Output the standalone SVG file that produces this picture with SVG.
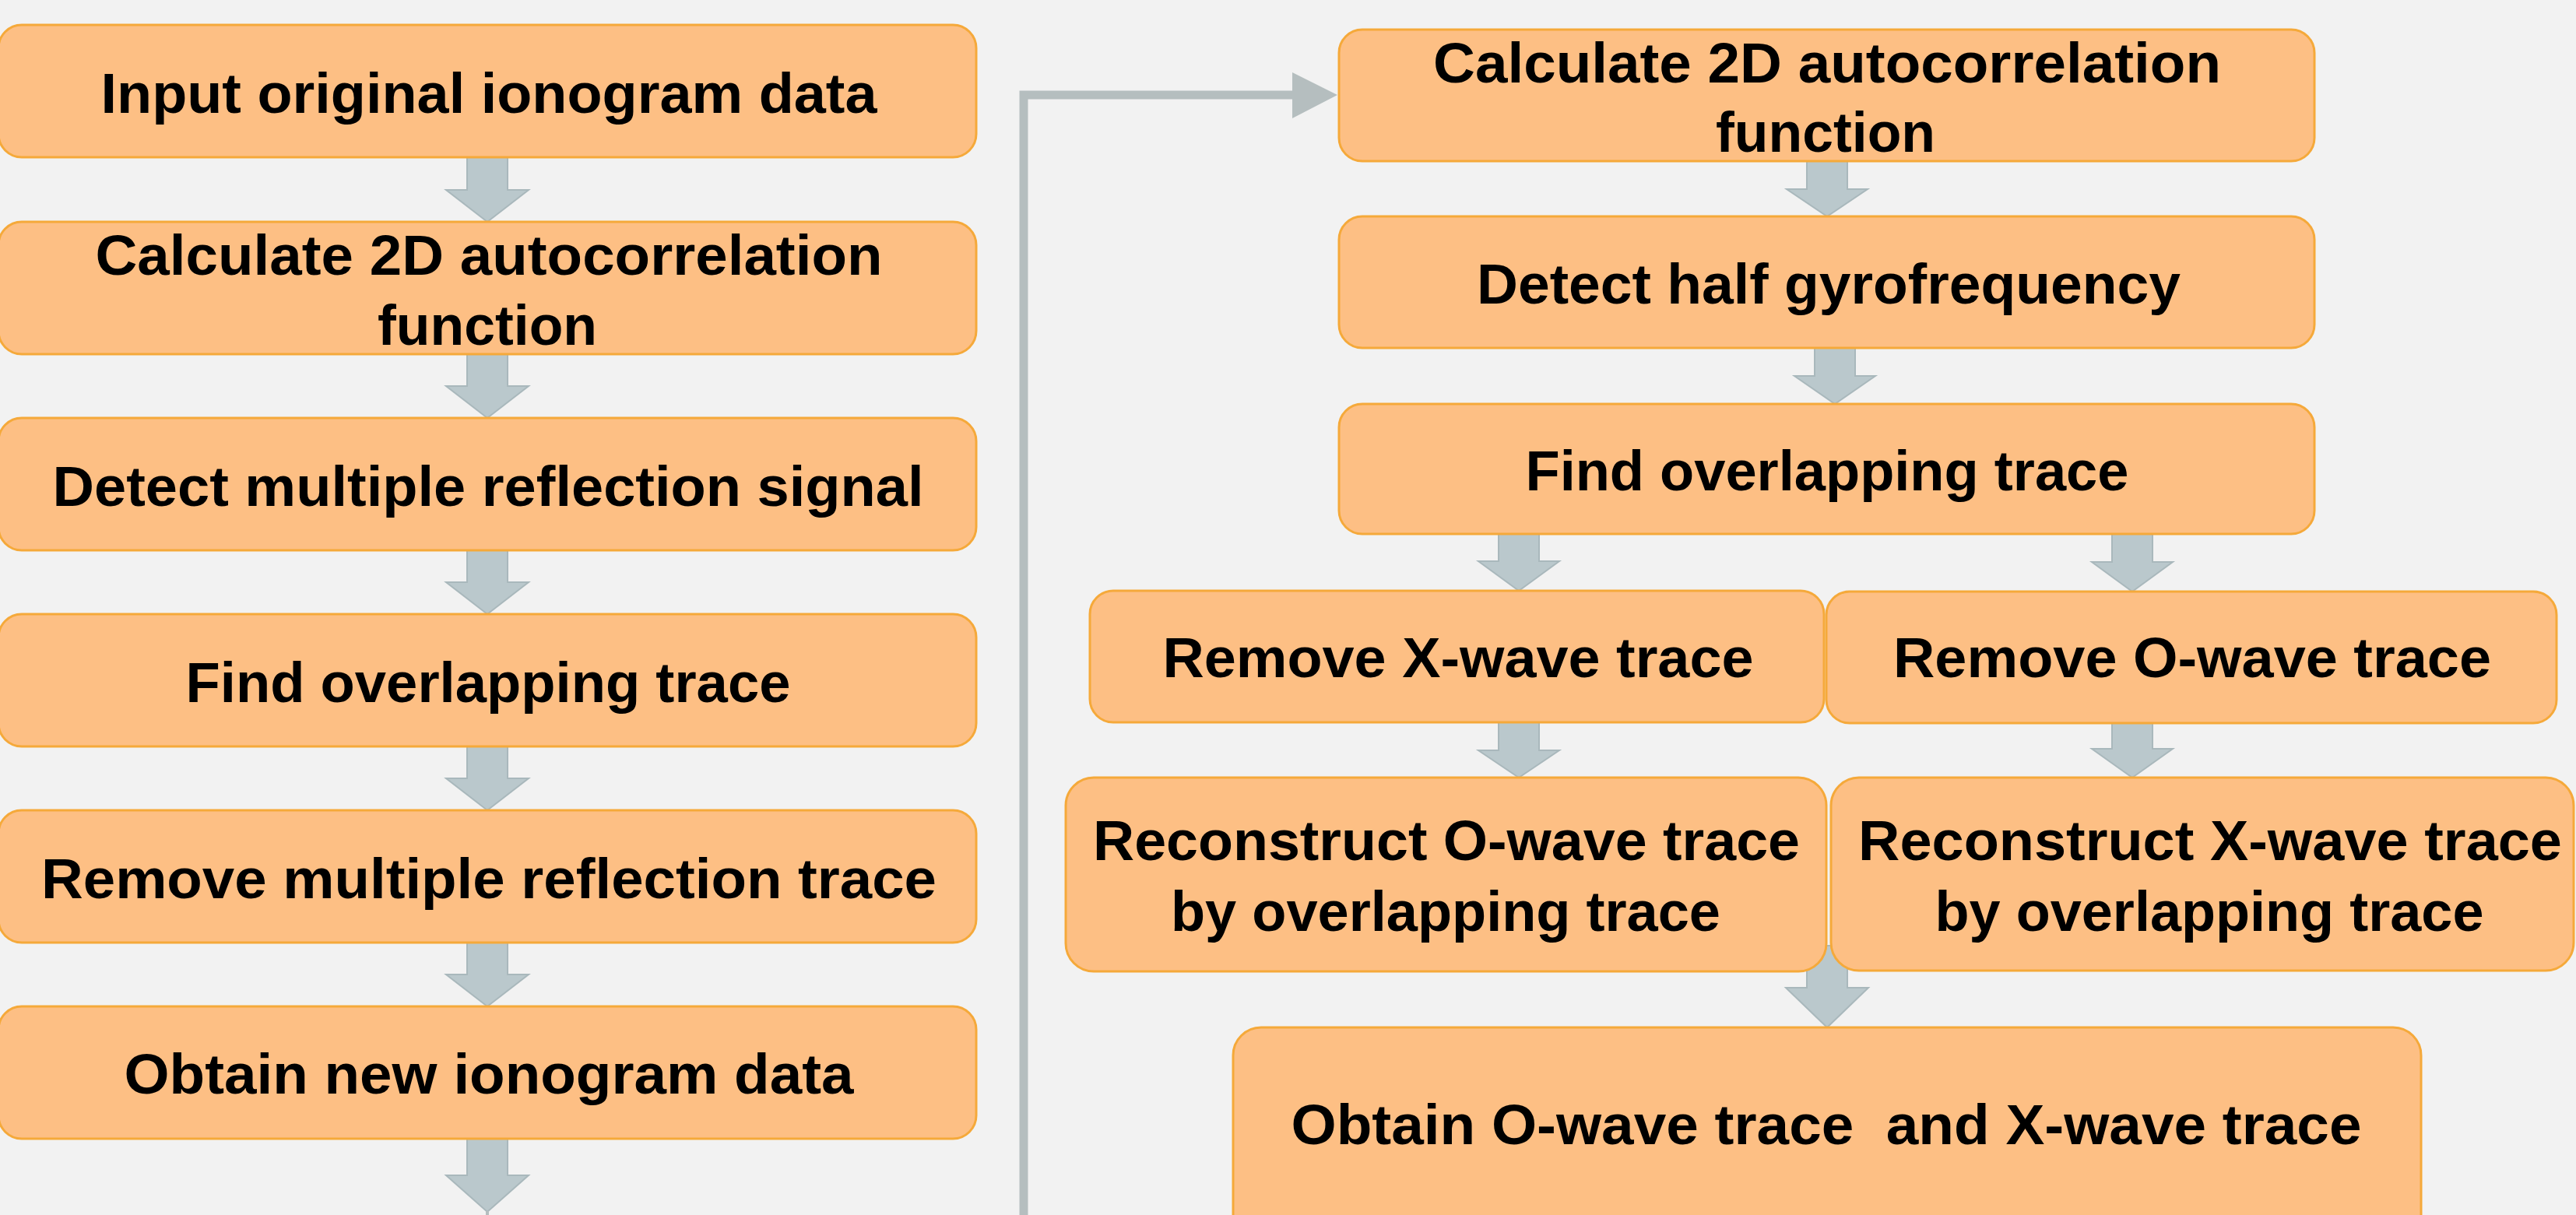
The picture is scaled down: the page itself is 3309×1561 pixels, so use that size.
<svg xmlns="http://www.w3.org/2000/svg" width="3309" height="1561" viewBox="0 0 3309 1561">
<defs>
<style>
.box{fill:#FDBF84;stroke:#F5A93A;stroke-width:3}
.t{font-family:"Liberation Sans",Arial,sans-serif;font-weight:bold;font-size:72px;fill:#000;text-anchor:middle}
.arr{fill:#BAC8CC;stroke:#A9B8BC;stroke-width:2}
.ln{fill:none;stroke:#B5BEBF;stroke-width:11}
</style>
</defs>
<rect x="0" y="0" width="3309" height="1561" fill="#F2F2F2"/>
<g id="connectors">
<polygon class="arr" points="600,202 652,202 652,244 679,244 626,285 573,244 600,244"/>
<polygon class="arr" points="600,455 652,455 652,496 679,496 626,537 573,496 600,496"/>
<polygon class="arr" points="600,707 652,707 652,748 679,748 626,789 573,748 600,748"/>
<polygon class="arr" points="600,959 652,959 652,1000 679,1000 626,1041 573,1000 600,1000"/>
<polygon class="arr" points="600,1211 652,1211 652,1252 679,1252 626,1293 573,1252 600,1252"/>
<polygon class="arr" points="600,1463 652,1463 652,1510 679,1510 626,1557 573,1510 600,1510"/>
<line x1="626" y1="1556" x2="626" y2="1561" stroke="#B5BEBF" stroke-width="4"/>
<polyline class="ln" points="1315,1561 1315,122 1662,122"/>
<polygon points="1660,93 1718,122 1660,152" fill="#B5BEBF"/>
<polygon class="arr" points="2321,207 2373,207 2373,243 2399,243 2347,278 2295,243 2321,243"/>
<polygon class="arr" points="2331,447 2383,447 2383,483 2409,483 2357,519 2305,483 2331,483"/>
<polygon class="arr" points="1925,686 1977,686 1977,721 2003,721 1951,759 1899,721 1925,721"/>
<polygon class="arr" points="2713,686 2765,686 2765,722 2791,722 2739,760 2687,722 2713,722"/>
<polygon class="arr" points="1925,928 1977,928 1977,964 2003,964 1951,999 1899,964 1925,964"/>
<polygon class="arr" points="2713,925 2765,925 2765,962 2791,962 2739,999 2687,962 2713,962"/>
<polygon class="arr" points="2321,1215 2373,1215 2373,1269 2400,1269 2347,1320 2294,1269 2321,1269"/>
</g>
<g id="n1"><rect class="box" x="-2" y="32" width="1256" height="170" rx="30"/><text class="t" x="628" y="145" textLength="997" lengthAdjust="spacingAndGlyphs">Input original ionogram data</text></g>
<g id="n2"><rect class="box" x="-2" y="285" width="1256" height="170" rx="30"/><text class="t" x="628" y="353" textLength="1011" lengthAdjust="spacingAndGlyphs">Calculate 2D autocorrelation</text><text class="t" x="626" y="443" textLength="282" lengthAdjust="spacingAndGlyphs">function</text></g>
<g id="n3"><rect class="box" x="-2" y="537" width="1256" height="170" rx="30"/><text class="t" x="627" y="650" textLength="1119" lengthAdjust="spacingAndGlyphs">Detect multiple reflection signal</text></g>
<g id="n4"><rect class="box" x="-2" y="789" width="1256" height="170" rx="30"/><text class="t" x="627" y="902" textLength="777" lengthAdjust="spacingAndGlyphs">Find overlapping trace</text></g>
<g id="n5"><rect class="box" x="-2" y="1041" width="1256" height="170" rx="30"/><text class="t" x="628" y="1154" textLength="1150" lengthAdjust="spacingAndGlyphs">Remove multiple reflection trace</text></g>
<g id="n6"><rect class="box" x="-2" y="1293" width="1256" height="170" rx="30"/><text class="t" x="628" y="1405" textLength="937" lengthAdjust="spacingAndGlyphs">Obtain new ionogram data</text></g>
<g id="r1"><rect class="box" x="1720" y="38" width="1253" height="169" rx="30"/><text class="t" x="2347" y="106" textLength="1012" lengthAdjust="spacingAndGlyphs">Calculate 2D autocorrelation</text><text class="t" x="2345" y="195" textLength="282" lengthAdjust="spacingAndGlyphs">function</text></g>
<g id="r2"><rect class="box" x="1720" y="278" width="1253" height="169" rx="30"/><text class="t" x="2349" y="390" textLength="904" lengthAdjust="spacingAndGlyphs">Detect half gyrofrequency</text></g>
<g id="r3"><rect class="box" x="1720" y="519" width="1253" height="167" rx="30"/><text class="t" x="2347" y="630" textLength="775" lengthAdjust="spacingAndGlyphs">Find overlapping trace</text></g>
<g id="rx"><rect class="box" x="1400" y="759" width="943" height="169" rx="30"/><text class="t" x="1873" y="870" textLength="759" lengthAdjust="spacingAndGlyphs">Remove X-wave trace</text></g>
<g id="ro"><rect class="box" x="2346" y="760" width="938" height="169" rx="30"/><text class="t" x="2816" y="870" textLength="768" lengthAdjust="spacingAndGlyphs">Remove O-wave trace</text></g>
<g id="co"><rect class="box" x="1369" y="999" width="977" height="249" rx="36"/><text class="t" x="1858" y="1105" textLength="908" lengthAdjust="spacingAndGlyphs">Reconstruct O-wave trace</text><text class="t" x="1857" y="1196" textLength="706" lengthAdjust="spacingAndGlyphs">by overlapping trace</text></g>
<g id="cx"><rect class="box" x="2352" y="999" width="954" height="248" rx="36"/><text class="t" x="2839" y="1105" textLength="904" lengthAdjust="spacingAndGlyphs">Reconstruct X-wave trace</text><text class="t" x="2838" y="1196" textLength="705" lengthAdjust="spacingAndGlyphs">by overlapping trace</text></g>
<g id="fin"><rect class="box" x="1584" y="1320" width="1526" height="300" rx="36"/><text class="t" x="2346" y="1470" textLength="1375" lengthAdjust="spacingAndGlyphs" xml:space="preserve">Obtain O-wave trace  and X-wave trace</text></g>
</svg>
